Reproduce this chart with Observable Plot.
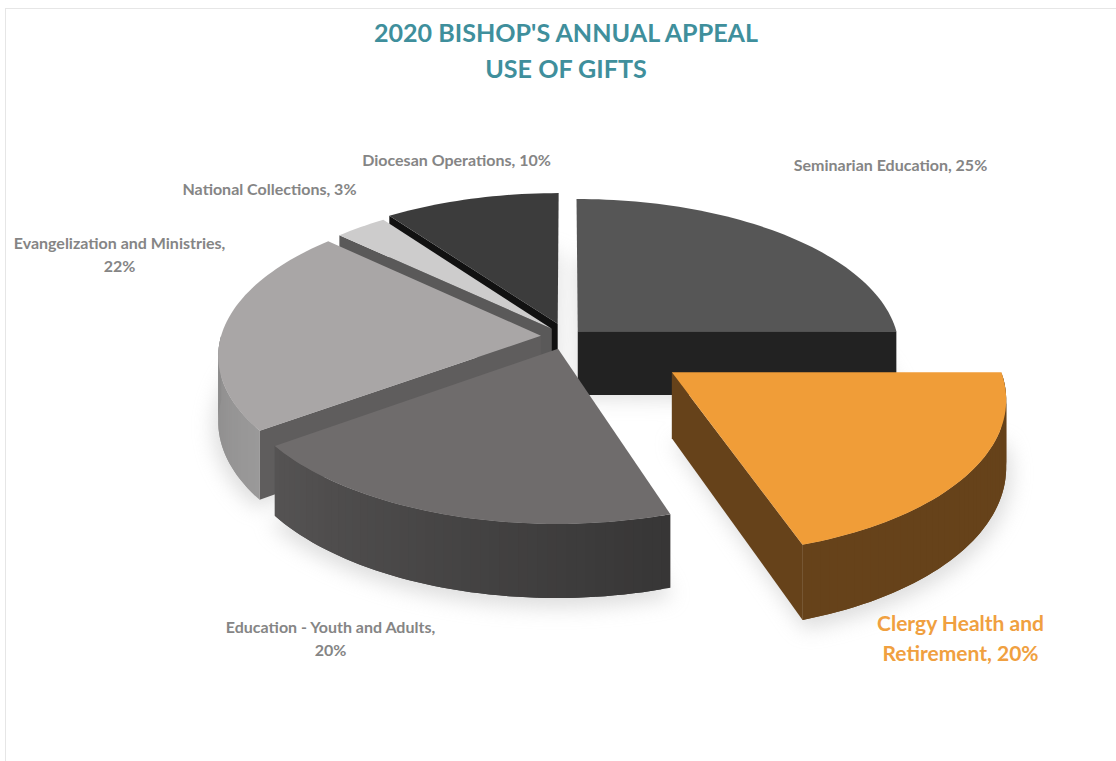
<!DOCTYPE html>
<html>
<head>
<meta charset="utf-8">
<script src="https://cdn.jsdelivr.net/npm/d3@7"></script>
<script src="https://cdn.jsdelivr.net/npm/@observablehq/plot@0.6"></script>
<style>
html,body{margin:0;padding:0;background:#fff;}
#page{position:absolute;left:5px;top:8px;width:1111px;height:753px;border-top:1px solid #e6e6e6;border-left:1px solid #e6e6e6;box-sizing:border-box;overflow:hidden;}
#title{position:absolute;left:-6px;top:5px;width:1132px;text-align:center;font:700 25.1px/36px Lato,sans-serif;color:#3f8f9c;}
#chart{position:absolute;left:-6px;top:77px;}
svg{display:block;}
</style>
</head>
<body>
<div id="page">
<div id="title">2020 BISHOP'S ANNUAL APPEAL<br>USE OF GIFTS</div>
<div id="chart"></div>
</div>
<script>
// ---- data ----
const categories = ["Seminarian Education","Clergy Health and Retirement","Education - Youth and Adults","Evangelization and Ministries","National Collections","Diocesan Operations"];
const shares = [25,20,20,22,3,10];
const labelLines = ["Seminarian Education, 25%","Clergy Health and\nRetirement, 20%","Education - Youth and Adults,\n20%","Evangelization and Ministries,\n22%","National Collections, 3%","Diocesan Operations, 10%"];

// ---- style ----
const explode = [0.05,0.395,0.085,0.08,0.07,0.09];
const topColors = ["#565656","#f09d38","#6f6c6c","#a9a6a6","#cdcccc","#3c3c3c"];
const radialColors = ["#222222","#66421a","#3a3939","#5f5d5d","#5a5959","#111111"];
const wallFrom = ["#222222","#66421a","#373636","#9a9999","#5a5959","#111111"];
const wallTo = ["#222222","#66421a","#555353","#8c8b8b","#5a5959","#111111"];
const labelColors = ["#858585","#f0a040","#858585","#858585","#858585","#858585"];
const labelSize = [16,21,16,16,16,16];
const labelAt = [[890,77],[960,550],[330,551],[119,167],[269,101],[456,72]];

// ---- perspective ----
const p = 0.125, depth = 64 / 150;
const proj = (X,Y,h=0) => { const s = 1/(1-p*Y); return {u:X*s, v:(Y + h)*s}; };

let cum = 0;
const slices = shares.map((v,i) => {
  const a0 = cum/100*360; cum += v; const a1 = cum/100*360;
  const mid = (a0+a1)/2*Math.PI/180;
  return {i,a0,a1,ox:Math.sin(mid)*explode[i],oy:-Math.cos(mid)*explode[i]};
});
const rad = d => d*Math.PI/180;
const disc = (s,a,r=1) => [s.ox + r*Math.sin(rad(a)), s.oy - r*Math.cos(rad(a))];
const arc = (s,a0,a1) => { const n=Math.max(2,Math.ceil((a1-a0)/1.5)); return d3.range(n+1).map(k=>a0+(a1-a0)*k/n); };

let polys = [], shadow = [], pid = 0;
const addPoly = (arr,pts,color) => { const id = pid++; pts.forEach(q=>arr.push({id,u:q.u,v:q.v,c:color})); };

// painter's order: back to front
const order = [...slices].sort((a,b)=>{
  const m = s=>{const t=rad((s.a0+s.a1)/2);return -Math.cos(t)+s.oy;};
  return m(a)-m(b);
});
for (const s of order){
  const ap=[s.ox,s.oy];
  const topPts=[proj(...ap),...arc(s,s.a0,s.a1).map(a=>proj(...disc(s,a)))];
  addPoly(shadow,[proj(...ap,depth+0.02),...arc(s,s.a0,s.a1).map(a=>{const d=disc(s,a,1.015);return proj(d[0],d[1],depth+0.035);})],"#a9a9a9");
  const radial=(a)=>{const e=disc(s,a);
    addPoly(polys,[proj(...ap),proj(...e),proj(...e,depth),proj(...ap,depth)],radialColors[s.i]);};
  if (Math.sin(rad(s.a0))<-1e-6) radial(s.a0);
  if (Math.sin(rad(s.a1))>1e-6) radial(s.a1);
  const f0=Math.max(s.a0,90), f1=Math.min(s.a1,270);
  if (f1>f0){
    const as=arc(s,f0,f1), mix=d3.interpolateRgb(wallFrom[s.i],wallTo[s.i]);
    // each strip runs under the next one, so no seam shows between them
    for(let k=0;k<as.length-1;k++){
      const e=Math.min(k+2,as.length-1);
      const front=as.slice(k,e+1).map(a=>proj(...disc(s,a)));
      const back=as.slice(k,e+1).reverse().map(a=>proj(...disc(s,a),depth));
      addPoly(polys,[...front,...back],d3.color(mix(k/(as.length-2||1))).formatHex());
    }
  }
  addPoly(polys,topPts,topColors[s.i]);
}

const marks = [
  Plot.line(shadow,{x:"u",y:"v",z:"id",fill:"c",stroke:"none",curve:"linear-closed",imageFilter:"blur(10px)",fillOpacity:0.4}),
  Plot.line(polys,{x:"u",y:"v",z:"id",fill:"c",stroke:"none",curve:"linear-closed"})
];
labelLines.forEach((t,i)=>{
  marks.push(Plot.text([t],{frameAnchor:"top-left",dx:labelAt[i][0],dy:labelAt[i][1],text:d=>d,
    textAnchor:"middle",lineAnchor:"middle",fontSize:labelSize[i],fontWeight:700,lineHeight:1.4,
    fill:labelColors[i],fontFamily:"Lato, sans-serif"}));
});

const chart = Plot.plot({
  width:1116,height:676,margin:0,
  x:{domain:[-1,1],range:[566-320,566+320],axis:null},
  y:{domain:[-1,1],range:[335-85-150,335-85+150],axis:null},
  color:{type:"identity"},
  style:{background:"transparent"},
  marks
});
document.getElementById("chart").append(chart);
</script>
</body>
</html>
